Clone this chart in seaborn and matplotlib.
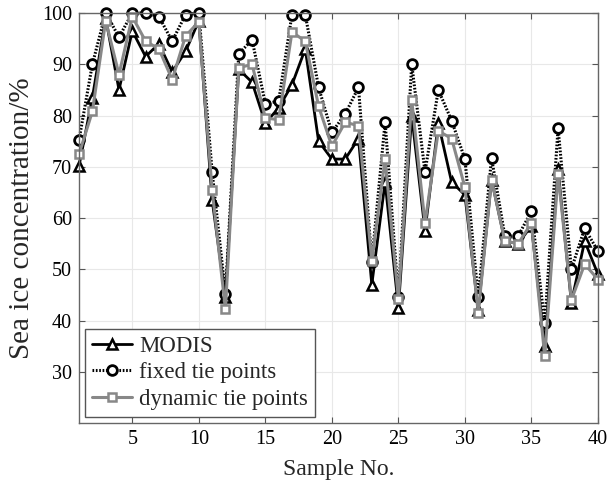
import numpy as np
import pandas as pd
import matplotlib
matplotlib.use("Agg")
import matplotlib.pyplot as plt
import seaborn as sns

sample = list(range(1, 41))
modis = [70.2, 83.5, 99.0, 85.0, 96.5, 91.5, 94.0, 88.5, 92.5, 98.5,
         63.5, 44.5, 89.0, 86.5, 78.5, 81.5, 86.0, 93.0, 75.0, 71.5,
         71.5, 75.5, 47.0, 67.0, 42.5, 80.0, 57.5, 78.5, 67.0, 64.5,
         42.0, 67.5, 55.5, 55.0, 58.5, 35.0, 69.5, 43.5, 55.5, 49.0]
fixed = [75.3, 90.0, 100.0, 95.3, 100.0, 100.0, 99.3, 94.5, 99.7, 100.0,
         69.0, 45.2, 92.0, 94.8, 82.3, 82.8, 99.7, 99.7, 85.5, 76.7,
         80.3, 85.5, 51.5, 78.7, 44.5, 90.0, 69.0, 85.0, 79.0, 71.5,
         44.5, 71.7, 56.5, 56.5, 61.3, 39.5, 77.5, 50.0, 58.0, 53.5]
dynamic = [72.5, 80.8, 98.5, 88.0, 99.3, 94.5, 93.0, 87.0, 95.5, 98.3,
           65.5, 42.2, 89.3, 90.0, 79.5, 79.2, 96.3, 94.5, 81.8, 74.0,
           78.7, 78.0, 51.7, 71.5, 44.2, 83.0, 59.0, 77.0, 75.5, 66.0,
           41.5, 67.5, 55.5, 55.0, 59.0, 33.0, 68.5, 44.0, 51.0, 48.0]
series_names = ["MODIS", "fixed tie points", "dynamic tie points"]
xticks = [5, 10, 15, 20, 25, 30, 35, 40]
yticks = [30, 40, 50, 60, 70, 80, 90, 100]

sns.set_theme(style="white")
plt.rcParams["font.family"] = ["Liberation Serif", "DejaVu Serif"]

fig = plt.figure(figsize=(6.13, 4.91), dpi=100)
ax = fig.add_axes([0.129, 0.1385, 0.8465, 0.835])

styles = [
    dict(color="black", linestyle="-", marker="^", markersize=6.5, lw=2.0,
         markerfacecolor="white", markeredgecolor="black", markeredgewidth=1.8),
    dict(color="black", linestyle=(0, (0.55, 0.55)), marker="o", markersize=7, lw=2.2,
         markerfacecolor="white", markeredgecolor="black", markeredgewidth=2.0),
    dict(color="#888888", linestyle="-", marker="s", markersize=5.5, lw=2.2,
         markerfacecolor="white", markeredgecolor="#888888", markeredgewidth=1.8),
]
for name, vals, st in zip(series_names, [modis, fixed, dynamic], styles):
    df = pd.DataFrame({"x": sample, "y": vals})
    sns.lineplot(data=df, x="x", y="y", ax=ax, label=name, clip_on=False, **st)

ax.set_xlim(1, 40)
ax.set_ylim(20, 100)
ax.set_xticks(xticks)
ax.set_yticks(yticks)
ax.set_xlabel("Sample No.", fontsize=17, labelpad=7)
ax.set_ylabel("Sea ice concentration/%", fontsize=21, labelpad=5)
ax.tick_params(direction="in", length=4, width=0.8, colors="#555555",
               labelcolor="black", labelsize=14.5, top=True, right=True,
               bottom=True, left=True, pad=5)
ax.grid(True, color="#e8e8e8", linewidth=0.8)
for sp in ax.spines.values():
    sp.set_color("#666666")
    sp.set_linewidth(1.0)

leg = ax.legend(loc="lower left", fontsize=16.5, frameon=True, fancybox=False,
                handlelength=1.75, borderaxespad=0.26, labelspacing=0.25,
                borderpad=0.3, handletextpad=0.3, framealpha=1)
leg.get_frame().set_edgecolor("#555555")
leg.get_frame().set_linewidth(1.0)

fig.savefig("out.png", dpi=100)
